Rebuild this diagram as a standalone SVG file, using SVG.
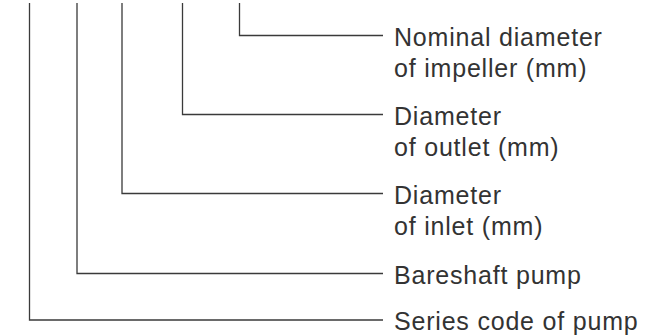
<svg xmlns="http://www.w3.org/2000/svg" width="654" height="336" viewBox="0 0 654 336">
<style>
.c{fill:none;stroke:#3a3a3a;stroke-width:1.3}
.t{font-family:"Liberation Sans",Arial,sans-serif;font-size:25px;fill:#333;letter-spacing:0.8px}
</style>
<rect width="654" height="336" fill="#fff"/>
<g id="connectors">
<polyline class="c" points="239.5,3 239.5,35.5 383,35.5"/>
<polyline class="c" points="182.5,3 182.5,114.5 383,114.5"/>
<polyline class="c" points="122,3 122,193.5 383,193.5"/>
<polyline class="c" points="77,3 77,273.5 383,273.5"/>
<polyline class="c" points="29.5,3 29.5,320 383,320"/>
</g>
<g id="n1"><text class="t" x="394" y="46">Nominal diameter</text><text class="t" x="394" y="77">of impeller (mm)</text></g>
<g id="n2"><text class="t" x="394" y="125">Diameter</text><text class="t" x="394" y="156">of outlet (mm)</text></g>
<g id="n3"><text class="t" x="394" y="204">Diameter</text><text class="t" x="394" y="235">of inlet (mm)</text></g>
<g id="n4"><text class="t" x="394" y="284">Bareshaft pump</text></g>
<g id="n5"><text class="t" x="394" y="330">Series code of pump</text></g>
</svg>
